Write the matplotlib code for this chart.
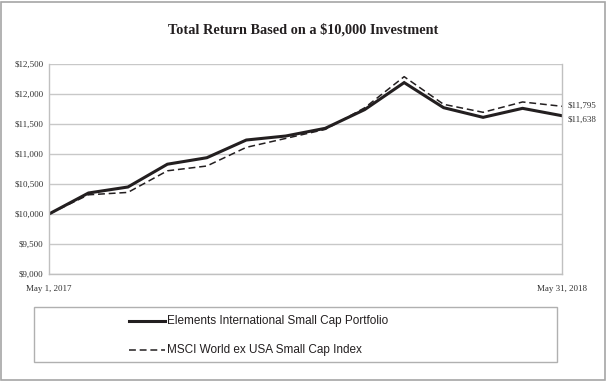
import matplotlib
matplotlib.use("Agg")
import matplotlib.pyplot as plt
from matplotlib.lines import Line2D
from matplotlib.patches import Rectangle

portfolio_name = "Elements International Small Cap Portfolio"
index_name = "MSCI World ex USA Small Cap Index"
portfolio = [10000, 10350, 10450, 10830, 10938, 11233, 11300, 11428, 11740,
             12190, 11772, 11611, 11761, 11638]
index_vals = [10000, 10320, 10360, 10720, 10800, 11111, 11260, 11410, 11770,
              12289, 11828, 11695, 11867, 11795]
yticks = [9000, 9500, 10000, 10500, 11000, 11500, 12000, 12500]
start_label = "May 1, 2017"
end_label = "May 31, 2018"
title = "Total Return Based on a $10,000 Investment"

W, H = 607, 381
fig = plt.figure(figsize=(W/100, H/100), dpi=100)
serif = "Liberation Serif"
sans = "Liberation Sans"

# outer border
fig.patches.append(Rectangle((1/W, 1/H), (W-3)/W, (H-3)/H, transform=fig.transFigure,
                             fill=False, edgecolor="#a6a6a6", linewidth=1.2))

ax = fig.add_axes([49/W, 1-274/H, (562-49)/W, (274-64)/H])
x = list(range(len(portfolio)))
ax.plot(x, portfolio, color="#231f20", linewidth=2.2, solid_joinstyle="miter")
ax.plot(x, index_vals, color="#231f20", linewidth=1.1, linestyle=(0, (4.5, 2.5)))
ax.set_xlim(0, len(portfolio)-1)
ax.set_ylim(9000, 12500)
ax.set_yticks(yticks)
ax.set_yticklabels([f"${v:,}" for v in yticks], fontfamily=serif, fontsize=6.5, color="#333333")
ax.set_xticks([0, len(portfolio)-1])
ax.set_xticklabels([start_label, end_label], fontfamily=serif, fontsize=6.5, color="#333333")
ax.tick_params(axis="both", length=0, pad=4)
ax.tick_params(axis="x", pad=8)
ax.grid(axis="y", color="#c8c8c8", linewidth=1.0)
ax.set_axisbelow(True)
for s in ax.spines.values():
    s.set_color("#c0c0c0")
    s.set_linewidth(1.0)
ax.spines["top"].set_visible(False)

ax.annotate(f"${index_vals[-1]:,}", xy=(x[-1], index_vals[-1]), xytext=(4, 0),
            textcoords="offset points", va="center", ha="left",
            fontfamily=serif, fontsize=6.5, color="#333333", annotation_clip=False)
ax.annotate(f"${portfolio[-1]:,}", xy=(x[-1], portfolio[-1]), xytext=(4, -3),
            textcoords="offset points", va="center", ha="left",
            fontfamily=serif, fontsize=6.5, color="#333333", annotation_clip=False)

fig.text(0.5, 1-30/H, title, ha="center", va="center", fontfamily=serif,
         fontweight="bold", fontsize=10.3, color="#231f20")

# legend box
fig.patches.append(Rectangle((34/W, 1-362/H), (557-34)/W, (362-307)/H,
                             transform=fig.transFigure, fill=False,
                             edgecolor="#b0b0b0", linewidth=1.0))
fig.lines.append(Line2D([129/W, 165/W], [1-321/H, 1-321/H], transform=fig.transFigure,
                        color="#231f20", linewidth=2.2))
fig.lines.append(Line2D([129/W, 165/W], [1-350/H, 1-350/H], transform=fig.transFigure,
                        color="#231f20", linewidth=1.1, linestyle=(0, (4.5, 2.5))))
fig.text(167/W, 1-321/H, portfolio_name, ha="left", va="center", fontfamily=sans,
         fontsize=8.5, color="#231f20")
fig.text(167/W, 1-350/H, index_name, ha="left", va="center", fontfamily=sans,
         fontsize=8.5, color="#231f20")

fig.savefig("out.png", dpi=100)
